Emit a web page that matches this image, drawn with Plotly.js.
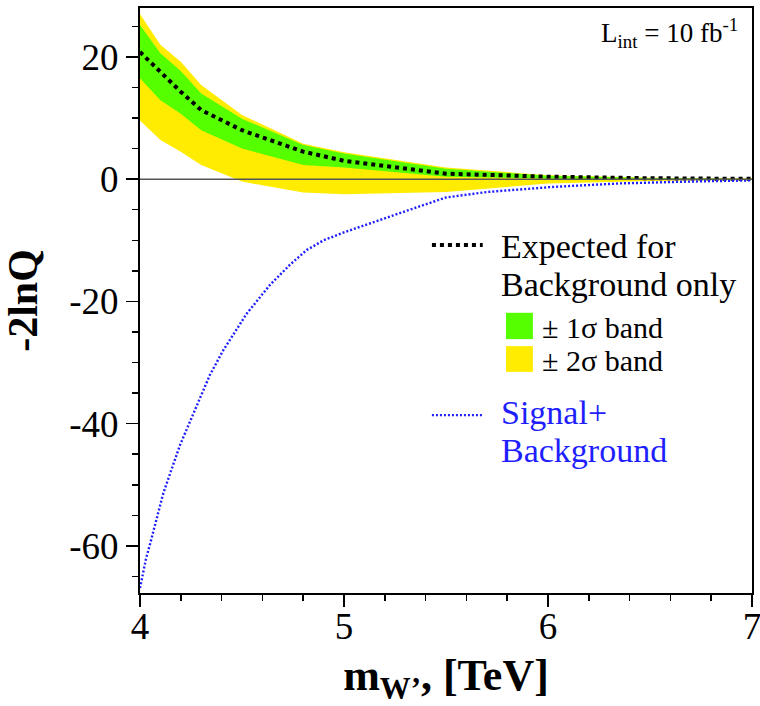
<!DOCTYPE html>
<html>
<head>
<meta charset="utf-8">
<script src="https://cdn.plot.ly/plotly-3.0.1.min.js"></script>
<style>html,body{margin:0;padding:0;background:#fff;}#chart{width:760px;height:706px;}</style>
</head>
<body>
<div id="chart"></div>
<script>
// Mass points for the expected (background-only) bands
const massBands = [4.0, 4.1, 4.2, 4.3, 4.5, 4.8, 5.0, 5.5, 6.0, 6.5, 7.0];
const twoSigmaHigh = [27.0, 22.0, 19.2, 15.4, 10.5, 5.8, 4.4, 1.9, 0.65, 0.25, 0.1];
const oneSigmaHigh = [25.2, 20.6, 17.7, 14.0, 9.9, 5.6, 4.2, 1.7, 0.55, 0.2, 0.08];
const expectedBkg  = [20.8, 17.5, 14.3, 11.3, 8.0, 4.5, 3.0, 0.9, 0.4, 0.15, 0.05];
const oneSigmaLow  = [16.5, 12.9, 10.7, 8.0, 5.0, 2.3, 1.9, 0.4, 0.1, 0.0, -0.02];
const twoSigmaLow  = [9.6, 6.4, 4.5, 2.3, -0.4, -2.2, -2.45, -2.1, -0.7, -0.3, -0.1];

// Signal + background curve
const massSB = [4.0, 4.03, 4.05, 4.114, 4.196, 4.278, 4.343, 4.408, 4.523, 4.637, 4.735, 4.817, 4.9, 5.0, 5.18, 5.34, 5.5, 5.7, 6.03, 6.35, 6.68, 7.0];
const sigBkg = [-66.9, -62.0, -59.6, -51.4, -43.5, -37.0, -32.0, -28.0, -22.0, -17.3, -14.0, -11.6, -10.0, -8.7, -6.7, -4.8, -3.0, -2.1, -1.26, -0.7, -0.4, -0.2];

// Tick labels
const xTickVals = [4, 5, 6, 7];
const xTickText = ['4', '5', '6', '7'];
const yTickVals = [20, 0, -20, -40, -60];
const yTickText = ['20', '0', '-20', '-40', '-60'];

const GREEN = 'rgb(85,255,0)';
const YELLOW = 'rgb(255,236,0)';
const BLUE = 'rgb(30,30,255)';
const FONT = '"Liberation Serif", "Times New Roman", Times, serif';

const traces = [
  {x: massBands, y: twoSigmaLow, mode: 'lines', line: {width: 0, color: YELLOW}, showlegend: false, hoverinfo: 'skip'},
  {x: massBands, y: twoSigmaHigh, mode: 'lines', line: {width: 0, color: YELLOW}, fill: 'tonexty', fillcolor: YELLOW, showlegend: false, hoverinfo: 'skip'},
  {x: massBands, y: oneSigmaLow, mode: 'lines', line: {width: 0, color: GREEN}, showlegend: false, hoverinfo: 'skip'},
  {x: massBands, y: oneSigmaHigh, mode: 'lines', line: {width: 0, color: GREEN}, fill: 'tonexty', fillcolor: GREEN, showlegend: false, hoverinfo: 'skip'},
  {x: massBands, y: expectedBkg, mode: 'lines', line: {width: 4, color: '#000', dash: 'dot'}, showlegend: false},
  {x: massSB, y: sigBkg, mode: 'lines', line: {width: 2.4, color: BLUE, dash: '2px,2px'}, showlegend: false}
];

const layout = {
  width: 760, height: 706,
  margin: {l: 140, r: 8, t: 8, b: 113},
  paper_bgcolor: '#fff', plot_bgcolor: '#fff',
  font: {family: FONT, color: '#000'},
  showlegend: false,
  xaxis: {
    range: [4, 7],
    tickmode: 'array', tickvals: xTickVals, ticktext: xTickText,
    ticks: 'outside', ticklen: 12, tickwidth: 1.5, tickcolor: '#000',
    ticklabeloverflow: 'allow', ticklabelstandoff: -12,
    minor: {dtick: 0.2, tick0: 4, ticks: 'outside', ticklen: 6, tickwidth: 1.5, tickcolor: '#000', showgrid: false},
    showline: true, linecolor: '#000', linewidth: 2, mirror: true,
    showgrid: false, zeroline: false,
    tickfont: {family: FONT, size: 37, color: '#000'},
    title: {text: "<b>m<sub>W’</sub>, [TeV]</b>", font: {family: FONT, size: 44, color: '#000'}, standoff: 22}
  },
  yaxis: {
    range: [-67.7, 28],
    tickmode: 'array', tickvals: yTickVals, ticktext: yTickText,
    ticks: 'outside', ticklen: 12, tickwidth: 1.5, tickcolor: '#000',
    minor: {dtick: 5, ticks: 'outside', ticklen: 6, tickwidth: 1.5, tickcolor: '#000', showgrid: false},
    showline: true, linecolor: '#000', linewidth: 2, mirror: true,
    showgrid: false, zeroline: false,
    tickfont: {family: FONT, size: 37, color: '#000'},
    title: {text: '<b>-2lnQ</b>', font: {family: FONT, size: 42, color: '#000'}, standoff: 22}
  },
  shapes: [
    {type: 'line', xref: 'paper', yref: 'y', x0: 0, x1: 1, y0: 0, y1: 0, layer: 'above', line: {color: '#555', width: 1.5}},
    {type: 'line', xref: 'paper', yref: 'paper', x0: 0.477, x1: 0.560, y0: 0.595, y1: 0.595, line: {color: '#000', width: 4, dash: 'dot'}},
    {type: 'rect', xref: 'paper', yref: 'paper', x0: 0.598, x1: 0.642, y0: 0.434, y1: 0.479, fillcolor: GREEN, line: {width: 0}},
    {type: 'rect', xref: 'paper', yref: 'paper', x0: 0.598, x1: 0.642, y0: 0.378, y1: 0.422, fillcolor: YELLOW, line: {width: 0}},
    {type: 'line', xref: 'paper', yref: 'paper', x0: 0.477, x1: 0.560, y0: 0.304, y1: 0.304, line: {color: BLUE, width: 2.4, dash: '2px,2px'}}
  ],
  annotations: [
    {xref: 'paper', yref: 'paper', x: 0.587, y: 0.593, xanchor: 'left', yanchor: 'middle', showarrow: false, text: 'Expected for', font: {family: FONT, size: 34, color: '#000'}},
    {xref: 'paper', yref: 'paper', x: 0.587, y: 0.528, xanchor: 'left', yanchor: 'middle', showarrow: false, text: 'Background only', font: {family: FONT, size: 34, color: '#000'}},
    {xref: 'paper', yref: 'paper', x: 0.654, y: 0.453, xanchor: 'left', yanchor: 'middle', showarrow: false, text: '± 1σ band', font: {family: FONT, size: 30, color: '#000'}},
    {xref: 'paper', yref: 'paper', x: 0.654, y: 0.398, xanchor: 'left', yanchor: 'middle', showarrow: false, text: '± 2σ band', font: {family: FONT, size: 30, color: '#000'}},
    {xref: 'paper', yref: 'paper', x: 0.587, y: 0.309, xanchor: 'left', yanchor: 'middle', showarrow: false, text: 'Signal+', font: {family: FONT, size: 34, color: BLUE}},
    {xref: 'paper', yref: 'paper', x: 0.587, y: 0.243, xanchor: 'left', yanchor: 'middle', showarrow: false, text: 'Background', font: {family: FONT, size: 34, color: BLUE}},
    {xref: 'paper', yref: 'paper', x: 0.980, y: 0.957, xanchor: 'right', yanchor: 'middle', showarrow: false, text: 'L<sub>int</sub> = 10 fb<sup>-1</sup>', font: {family: FONT, size: 27, color: '#000'}}
  ]
};

Plotly.newPlot('chart', traces, layout, {staticPlot: true, displayModeBar: false});
</script>
</body>
</html>
